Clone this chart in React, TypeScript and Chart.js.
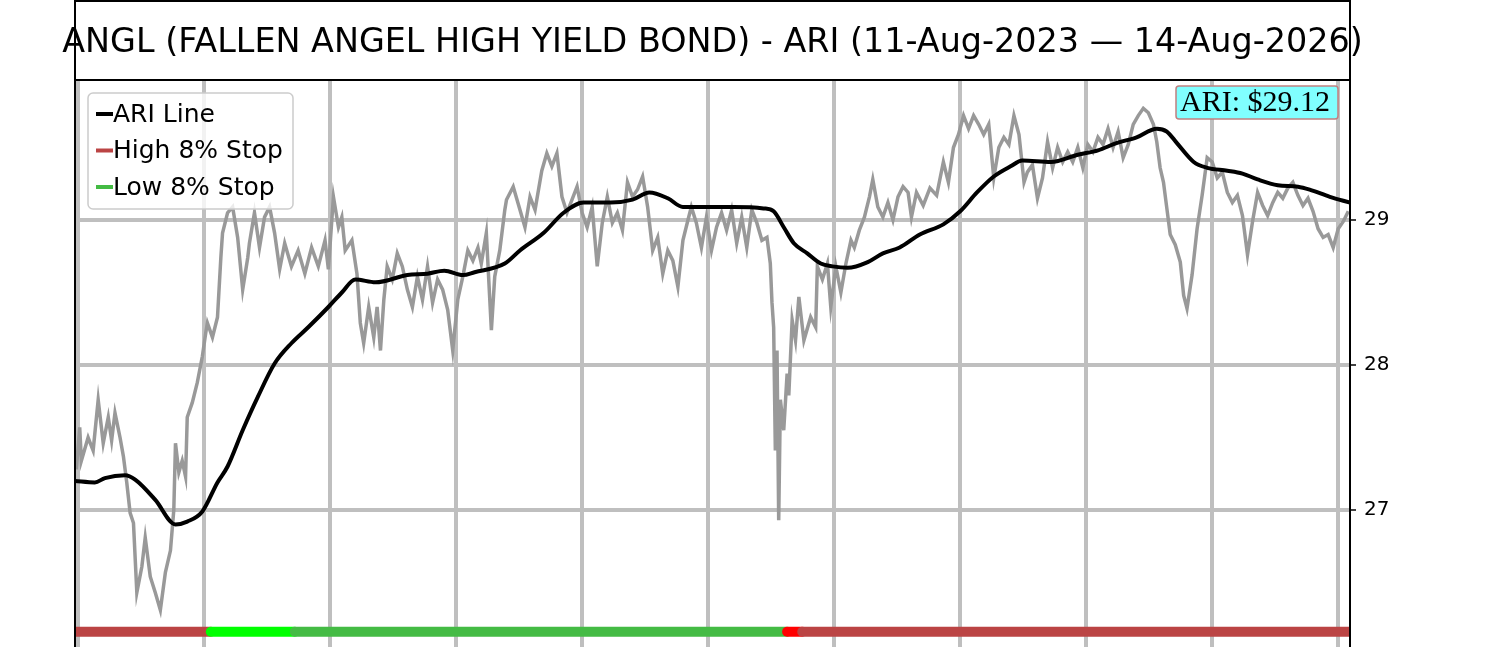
import React, { useEffect, useRef } from "react";
import { Chart, registerables } from "chart.js";

Chart.register(...registerables);

const titleText = "ANGL (FALLEN ANGEL HIGH YIELD BOND) - ARI (11-Aug-2023 — 14-Aug-2026)";
const legendLabels = ["ARI Line", "High 8% Stop", "Low 8% Stop"];
const yTicks = [27, 28, 29];
const gridDays = [0, 75, 150, 225, 300, 375, 450, 525, 600, 675, 750];
const dayMin = -1.8;
const dayMax = 757;
const yMin = 25.9655;
const yMax = 29.9655;

const priceDays = [
  -1, 1, 2, 6, 9, 12, 15, 18, 20, 22, 25, 27, 29, 31, 33, 35, 38, 40, 43, 46,
  49, 52, 55, 57, 58, 60, 62, 64, 65, 68, 71, 74, 76, 77, 80, 83, 85, 86, 89, 92,
  95, 98, 101, 102, 105, 108, 111, 114, 117, 120, 123, 127, 131, 135, 139, 143, 147, 149, 152, 155,
  157, 159, 163, 166, 168, 170, 173, 176, 178, 180, 182, 184, 187, 190, 193, 196, 199, 202, 205, 208,
  211, 214, 217, 220, 223, 226, 229, 232, 235, 238, 240, 243, 246, 248, 251, 254,
  255, 259, 263, 266, 269, 272, 276, 279, 282, 285, 288, 291, 294, 297, 300, 303, 306, 309, 312, 315,
  318, 321, 324, 327, 330, 333, 336, 339, 342, 345, 348, 351, 354, 357, 360, 363, 365, 368, 371, 374,
  377, 380, 383, 386, 389, 392, 395, 398, 401, 404, 407, 410, 412, 413, 414, 415, 416, 417, 418, 420,
  422, 423, 425, 427, 429, 432, 436, 439, 440, 443, 446, 448, 451, 454, 457, 460, 462, 465, 468, 471,
  473, 476, 479, 482, 485, 488, 491, 494, 496, 499,
  503, 507, 511, 515, 518, 521, 524, 527, 530, 533, 536, 539, 542, 545, 548, 551, 554, 557, 560, 563,
  565, 568, 571, 574, 577, 580, 583, 586, 589, 592, 595, 598, 601, 604, 607, 610, 613, 616, 619, 622,
  625, 628, 631, 634, 637, 640, 642, 644, 646, 648, 650, 653, 656, 658, 660, 663, 666, 669, 672, 675,
  678, 681, 684, 687, 690, 693, 696, 699, 702, 705, 708, 711, 714, 717, 720, 723, 726, 729, 732, 735,
  738, 741, 744, 747, 750, 753, 756,
];
const priceValues = [
  27.28, 27.57, 27.34, 27.5, 27.41, 27.76, 27.46, 27.64, 27.48, 27.67, 27.5, 27.37, 27.19, 26.98, 26.91, 26.43, 26.61, 26.81, 26.54, 26.43,
  26.31, 26.57, 26.72, 27.0, 27.46, 27.26, 27.34, 27.23, 27.64, 27.74, 27.88, 28.06, 28.22, 28.29, 28.19, 28.33, 28.74, 28.91, 29.05, 29.09,
  28.88, 28.52, 28.74, 28.84, 29.05, 28.81, 29.02, 29.09, 28.91, 28.66, 28.84, 28.68, 28.79, 28.63, 28.81, 28.68, 28.86, 28.66, 29.16, 28.95,
  29.02, 28.79, 28.86, 28.63, 28.29, 28.15, 28.4, 28.19, 28.4, 28.1, 28.45, 28.68, 28.59, 28.77, 28.68, 28.52, 28.4, 28.61, 28.45, 28.68,
  28.43, 28.59, 28.52, 28.38, 28.1, 28.45, 28.61, 28.79, 28.72, 28.81, 28.7, 28.91, 28.24, 28.61, 28.79, 29.07,
  29.14, 29.23, 29.07, 28.95, 29.16, 29.07, 29.34, 29.46, 29.37, 29.46, 29.16, 29.05, 29.14, 29.23, 29.05, 28.95, 29.09, 28.68, 28.98, 29.16,
  28.98, 29.05, 28.93, 29.26, 29.16, 29.21, 29.3, 29.09, 28.79, 28.88, 28.63, 28.79, 28.72, 28.54, 28.86, 29.0, 29.09, 28.98, 28.81, 29.02,
  28.79, 28.95, 29.05, 28.93, 29.07, 28.84, 29.02, 28.81, 29.07, 28.98, 28.86, 28.88, 28.7, 28.43, 28.26, 27.41, 28.1, 26.93, 27.76, 27.55,
  27.94, 27.79, 28.31, 28.17, 28.47, 28.17, 28.33, 28.26, 28.68, 28.59, 28.7, 28.4, 28.68, 28.5, 28.7, 28.86, 28.81, 28.93, 29.02, 29.16,
  29.28, 29.09, 29.02, 29.12, 29.0, 29.16, 29.23, 29.19, 29.02, 29.19,
  29.1, 29.22, 29.17, 29.4, 29.26, 29.5, 29.59, 29.72, 29.63, 29.72, 29.66, 29.59, 29.66, 29.29, 29.5, 29.57, 29.52, 29.72, 29.59, 29.26,
  29.33, 29.38, 29.15, 29.29, 29.54, 29.36, 29.5, 29.4, 29.47, 29.4, 29.5, 29.36, 29.52, 29.47, 29.57, 29.52, 29.63, 29.5, 29.61, 29.43,
  29.52, 29.66, 29.72, 29.77, 29.74, 29.66, 29.54, 29.36, 29.26, 29.08, 28.9, 28.83, 28.71, 28.48, 28.39, 28.62, 28.94, 29.17, 29.43, 29.4,
  29.29, 29.33, 29.19, 29.12, 29.17, 29.03, 28.76, 28.99, 29.19, 29.1, 29.03, 29.12, 29.19, 29.15, 29.22, 29.26, 29.17, 29.1, 29.15, 29.06,
  28.94, 28.88, 28.9, 28.81, 28.94, 28.99, 29.06,
];

const ariDays = [
  -2, 10, 16, 28, 34, 46, 58, 65, 74, 83, 89, 98, 107, 117, 127, 137, 149, 157, 165, 177,
  196, 208, 218, 229, 236, 254, 263, 277, 289, 301, 317, 330, 340, 351, 360, 370, 390, 408, 414, 420,
  426, 434, 442, 449, 458, 470, 479, 489, 501, 515, 525, 535, 545, 555, 562, 579, 595, 607, 618, 630,
  642, 648, 654, 664, 672, 684, 693, 702, 714, 726, 733, 745, 757,
];
const ariValues = [
  27.2, 27.19, 27.22, 27.24, 27.21, 27.07, 26.9, 26.92, 26.99, 27.19, 27.3, 27.55, 27.78, 28.01, 28.15, 28.26, 28.4, 28.5, 28.59, 28.57,
  28.62, 28.63, 28.65, 28.62, 28.64, 28.7, 28.79, 28.91, 29.05, 29.12, 29.12, 29.14, 29.19, 29.15, 29.09, 29.09, 29.09, 29.08, 29.06, 28.95,
  28.84, 28.77, 28.7, 28.68, 28.67, 28.71, 28.77, 28.81, 28.9, 28.97, 29.06, 29.19, 29.3, 29.37, 29.41, 29.4, 29.45, 29.48, 29.53, 29.57,
  29.63, 29.61, 29.53, 29.4, 29.36, 29.34, 29.32, 29.28, 29.24, 29.23, 29.21, 29.16, 29.12,
];

const stopLevel = 26.16;
const stopStarts = [-3, 79, 129, 422, 431];
const stopEnds = [79, 129, 422, 431, 759];
const stopKinds = ["high", "lowFresh", "low", "highFresh", "high"];

const stopColors: Record<string, string> = {
  high: "#BB4444",
  low: "#44BB44",
  lowFresh: "#00FF00",
  highFresh: "#FF0000",
};
const legendColors = ["#000000", "#BB4444", "#44BB44"];

const decorPlugin = {
  id: "decor",
  afterDraw(chart: any) {
    const { ctx, chartArea: a } = chart;
    ctx.save();
    // title
    ctx.font = '33.4px "DejaVu Sans"';
    ctx.fillStyle = "#000";
    ctx.textAlign = "center";
    ctx.textBaseline = "alphabetic";
    ctx.fillText(titleText, (a.left + a.right) / 2, 52);

    // frame lines
    ctx.strokeStyle = "#000";
    ctx.lineWidth = 2;
    ctx.beginPath();
    ctx.moveTo(a.left, 0);
    ctx.lineTo(a.left, chart.height);
    ctx.moveTo(a.right, 0);
    ctx.lineTo(a.right, chart.height);
    ctx.moveTo(a.left, a.top);
    ctx.lineTo(a.right, a.top);
    ctx.moveTo(a.left, 1);
    ctx.lineTo(a.right, 1);
    ctx.stroke();

    // legend
    const lx = a.left + 13;
    const ly = a.top + 13;
    ctx.beginPath();
    ctx.roundRect(lx, ly, 205, 116, 5);
    ctx.fillStyle = "rgba(255,255,255,0.8)";
    ctx.fill();
    ctx.strokeStyle = "#cccccc";
    ctx.lineWidth = 1.5;
    ctx.stroke();
    ctx.font = '25px "DejaVu Sans"';
    ctx.textBaseline = "middle";
    ctx.textAlign = "left";
    legendLabels.forEach((label, i) => {
      const ry = a.top + 34 + i * 36.5;
      ctx.strokeStyle = legendColors[i];
      ctx.lineWidth = 4;
      ctx.beginPath();
      ctx.moveTo(a.left + 21, ry);
      ctx.lineTo(a.left + 38, ry);
      ctx.stroke();
      ctx.fillStyle = "#000";
      ctx.fillText(label, a.left + 38, ry + 1);
    });

    // ARI label
    const label = `ARI: $${ariValues[ariValues.length - 1].toFixed(2)}`;
    const bx = a.right - 174;
    const by = a.top + 6;
    ctx.beginPath();
    ctx.roundRect(bx, by, 162, 33, 3);
    ctx.fillStyle = "#80FFFF";
    ctx.fill();
    ctx.strokeStyle = "#C08080";
    ctx.lineWidth = 1.5;
    ctx.stroke();
    ctx.font = '30px "Liberation Serif"';
    ctx.fillStyle = "#000";
    ctx.textBaseline = "middle";
    ctx.fillText(label, bx + 4, by + 17);
    ctx.restore();
  },
};

export default function App() {
  const canvasRef = useRef<HTMLCanvasElement | null>(null);

  useEffect(() => {
    if (!canvasRef.current) return;
    Chart.defaults.font.family = "DejaVu Sans";

    const datasets: any[] = [];
    datasets.push({
      label: "ARI Line",
      data: ariDays.map((d, i) => ({ x: d, y: ariValues[i] })),
      borderColor: "#000000",
      borderWidth: 4,
      pointRadius: 0,
      cubicInterpolationMode: "monotone",
      order: 0,
    });
    stopStarts.forEach((s, i) => {
      datasets.push({
        label: stopKinds[i],
        data: [
          { x: s, y: stopLevel },
          { x: stopEnds[i], y: stopLevel },
        ],
        borderColor: stopColors[stopKinds[i]],
        borderWidth: 10,
        borderCapStyle: "round",
        pointRadius: 0,
        order: 10 - i,
      });
    });
    datasets.push({
      label: "Price",
      data: priceDays.map((d, i) => ({ x: d, y: priceValues[i] })),
      borderColor: "#999999",
      borderWidth: 3.5,
      pointRadius: 0,
      tension: 0,
      order: 20,
    });

    const chart = new Chart(canvasRef.current, {
      type: "line",
      data: { datasets },
      plugins: [decorPlugin],
      options: {
        animation: false,
        responsive: false,
        devicePixelRatio: 1,
        layout: { padding: { left: 75, right: 0, top: 80, bottom: 0 } },
        plugins: {
          legend: { display: false },
          tooltip: { enabled: false },
          title: { display: false },
        },
        scales: {
          x: {
            type: "linear",
            min: dayMin,
            max: dayMax,
            afterBuildTicks: (scale: any) => {
              scale.ticks = gridDays.map((v) => ({ value: v }));
            },
            afterFit: (scale: any) => {
              scale.height = 60;
            },
            ticks: { display: false },
            grid: { color: "#bfbfbf", lineWidth: 4, drawTicks: false },
            border: { display: false },
          },
          y: {
            type: "linear",
            position: "right",
            min: yMin,
            max: yMax,
            afterBuildTicks: (scale: any) => {
              scale.ticks = yTicks.map((v) => ({ value: v }));
            },
            afterFit: (scale: any) => {
              scale.width = 150;
            },
            ticks: {
              color: "#000",
              font: { family: "DejaVu Sans", size: 20 },
              padding: 8,
            },
            grid: {
              color: "#bfbfbf",
              lineWidth: 4,
              tickColor: "#000",
              tickLength: 6,
              tickWidth: 1.5,
            },
            border: { display: true, color: "#000", width: 2 },
          },
        },
      } as any,
    });
    return () => chart.destroy();
  }, []);

  return (
    <div
      style={{
        position: "fixed",
        left: 0,
        top: 0,
        width: 1500,
        height: 647,
        overflow: "hidden",
        background: "#ffffff",
      }}
    >
      <canvas ref={canvasRef} width={1500} height={720} style={{ width: 1500, height: 720, display: "block" }} />
    </div>
  );
}
